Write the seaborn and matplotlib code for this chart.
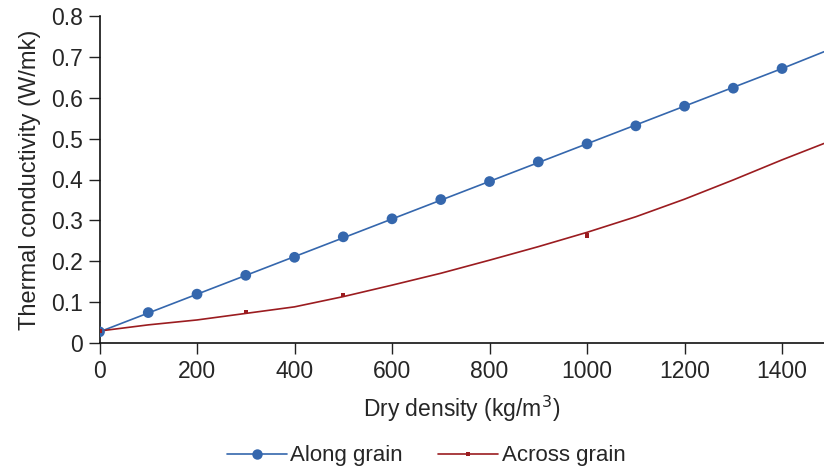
import matplotlib.pyplot as plt
from matplotlib.lines import Line2D
import seaborn as sns

# --- data ---
along_x = [0, 100, 200, 300, 400, 500, 600, 700, 800, 900, 1000, 1100, 1200, 1300, 1400]
along_y = [0.028, 0.075, 0.120, 0.166, 0.210, 0.260, 0.304, 0.351, 0.395, 0.443, 0.487, 0.531, 0.579, 0.623, 0.671]
along_line_x = [0, 1400, 1486]
along_line_y = [0.028, 0.671, 0.712]

across_x = [0, 300, 500, 1000]
across_y = [0.030, 0.076, 0.118, 0.263]
across_line_x = [0, 100, 200, 300, 400, 500, 600, 700, 800, 900, 1000, 1100, 1200, 1300, 1400, 1486]
across_line_y = [0.030, 0.045, 0.057, 0.073, 0.089, 0.114, 0.142, 0.171, 0.203, 0.236, 0.271, 0.309, 0.352, 0.399, 0.448, 0.488]

x_ticks = [0, 200, 400, 600, 800, 1000, 1200, 1400]
y_ticks = [0, 0.1, 0.2, 0.3, 0.4, 0.5, 0.6, 0.7, 0.8]
y_ticklabels = ['0', '0.1', '0.2', '0.3', '0.4', '0.5', '0.6', '0.7', '0.8']

blue = '#3567ad'
red = '#9b1c20'

sns.set_style('ticks')
plt.rcParams['font.family'] = ['Liberation Sans', 'DejaVu Sans']
plt.rcParams['font.size'] = 16

fig = plt.figure(figsize=(8.24, 4.70), dpi=100)
ax = fig.add_axes([99.5 / 824, 1 - 343.3 / 470, 1 - 99.5 / 824, (343.3 - 15.7) / 470])

sns.lineplot(x=along_line_x, y=along_line_y, ax=ax, color=blue, lw=1.2, sort=False)
sns.lineplot(x=across_line_x, y=across_line_y, ax=ax, color=red, lw=1.2, sort=False)
sns.scatterplot(x=along_x, y=along_y, ax=ax, color=blue, s=60, edgecolor='none', zorder=3)
sns.scatterplot(x=across_x, y=across_y, ax=ax, color=red, s=10, marker='s', edgecolor='none', zorder=3)

ax.set_xlim(0, 1486)
ax.set_ylim(0, 0.8)
ax.set_xticks(x_ticks)
ax.set_yticks(y_ticks)
ax.set_yticklabels(y_ticklabels)
ax.tick_params(axis='both', length=8, width=1, color='#222222', labelsize=16.5, pad=4)
for side in ['top', 'right']:
    ax.spines[side].set_visible(False)
for side in ['left', 'bottom']:
    ax.spines[side].set_linewidth(1.2)
    ax.spines[side].set_color('#111111')

ax.set_xlabel('Dry density (kg/m$^3$)', fontsize=16.5, labelpad=8)
ax.set_ylabel('Thermal conductivity (W/mk)', fontsize=17, labelpad=7)

handles = [
    Line2D([0], [0], color=blue, lw=1.2, marker='o', markersize=7.5, markeredgewidth=0, label='Along grain'),
    Line2D([0], [0], color=red, lw=1.2, marker='s', markersize=2.5, markeredgewidth=0, label='Across grain'),
]
fig.legend(handles=handles, loc='center', bbox_to_anchor=(426 / 824, 1 - 456 / 470), ncol=2,
           frameon=False, fontsize=16, handlelength=2.7, handletextpad=0.15, columnspacing=1.6)

fig.savefig('out.png', dpi=100)
